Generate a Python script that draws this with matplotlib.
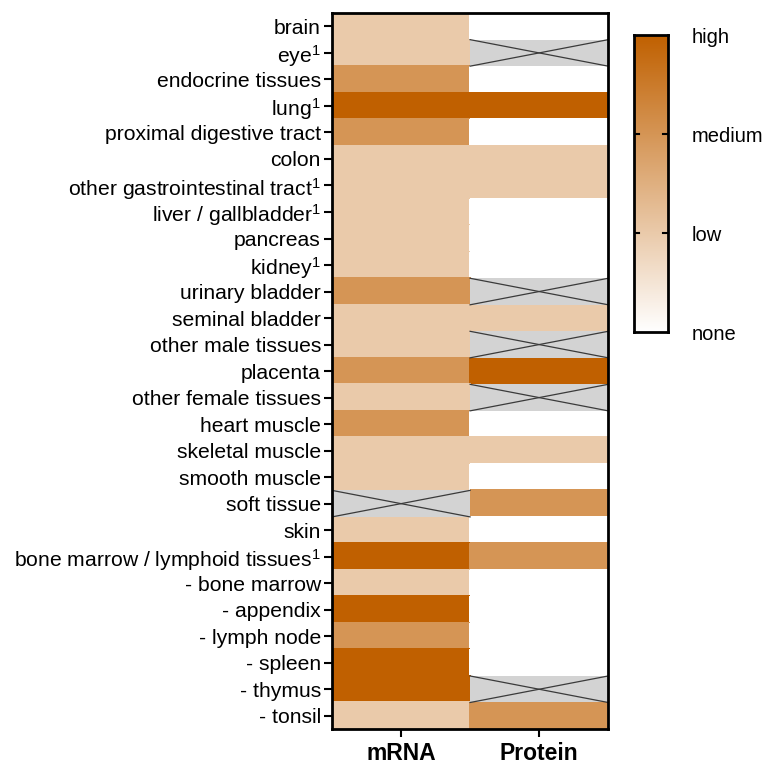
import numpy as np
import matplotlib
matplotlib.use("Agg")
import matplotlib.pyplot as plt
from matplotlib.colors import LinearSegmentedColormap

plt.rcParams['font.family'] = ['Liberation Sans', 'DejaVu Sans']
plt.rcParams['mathtext.fontset'] = 'custom'
plt.rcParams['mathtext.rm'] = 'Liberation Sans'
plt.rcParams['mathtext.it'] = 'Liberation Sans'

tissues = ["brain", "eye$^{1}$", "endocrine tissues", "lung$^{1}$", "proximal digestive tract",
           "colon", "other gastrointestinal tract$^{1}$", "liver / gallbladder$^{1}$", "pancreas",
           "kidney$^{1}$", "urinary bladder", "seminal bladder", "other male tissues", "placenta",
           "other female tissues", "heart muscle", "skeletal muscle", "smooth muscle", "soft tissue",
           "skin", "bone marrow / lymphoid tissues$^{1}$", "- bone marrow", "- appendix",
           "- lymph node", "- spleen", "- thymus", "- tonsil"]
columns = ["mRNA", "Protein"]
nan = np.nan
mrna = [1, 1, 2, 3, 2, 1, 1, 1, 1, 1, 2, 1, 1, 2, 1, 2, 1, 1, nan, 1, 3, 1, 3, 2, 3, 3, 1]
protein = [0, nan, 0, 3, 0, 1, 1, 0, 0, 0, nan, 1, nan, 3, nan, 0, 1, 0, 2, 0, 2, 0, 0, 0, 0, nan, 2]
level_labels = ["none", "low", "medium", "high"]

data = np.array([mrna, protein]).T  # rows x cols
cmap = LinearSegmentedColormap.from_list("br", ["#FFFFFF", "#C06000"])

fig = plt.figure(figsize=(7.65, 7.64), dpi=100)
ax = fig.add_axes([0.434, 0.0458, 0.361, 0.937])
nrows, ncols = data.shape
masked = np.ma.masked_invalid(data)
ax.set_facecolor('white')
mesh = ax.pcolormesh(np.arange(ncols + 1), np.arange(nrows + 1), masked, cmap=cmap, vmin=0, vmax=3,
                     edgecolors='face', linewidth=0.3)
# NaN cells: gray with X
for r in range(nrows):
    for c in range(ncols):
        if np.isnan(data[r, c]):
            ax.fill_between([c, c + 1], r, r + 1, color='#D3D3D3', linewidth=0)
            ax.plot([c, c + 1], [r, r + 1], color='#3a3a3a', lw=0.9)
            ax.plot([c, c + 1], [r + 1, r], color='#3a3a3a', lw=0.9)
ax.set_xlim(0, ncols)
ax.set_ylim(nrows, 0)
ax.set_yticks(np.arange(nrows) + 0.5)
ax.set_yticklabels(tissues, fontsize=15.2)
ax.set_xticks(np.arange(ncols) + 0.5)
ax.set_xticklabels(columns, fontsize=16.5, fontweight='bold')
ax.tick_params(axis='y', length=6, width=1.5, pad=2)
ax.tick_params(axis='x', length=6, width=1.5, pad=3)
for s in ax.spines.values():
    s.set_linewidth(2)

cax = fig.add_axes([0.829, 0.565, 0.044, 0.389])
grad = np.linspace(0, 3, 256).reshape(-1, 1)
cax.imshow(grad, cmap=cmap, aspect='auto', origin='lower', extent=[0, 1, 0, 3], vmin=0, vmax=3)
cax.set_xlim(0, 1)
cax.set_ylim(0, 3)
cax.set_xticks([])
cax.yaxis.tick_right()
cax.set_yticks(range(len(level_labels)))
cax.set_yticklabels(level_labels, fontsize=14.5)
cax.tick_params(axis='y', length=0, pad=17)
for v in [1, 2]:
    cax.plot([0, 0.14], [v, v], color='black', lw=1.5)
    cax.plot([0.86, 1], [v, v], color='black', lw=1.5)
for s in cax.spines.values():
    s.set_linewidth(2)

fig.savefig("out.png", dpi=100)
